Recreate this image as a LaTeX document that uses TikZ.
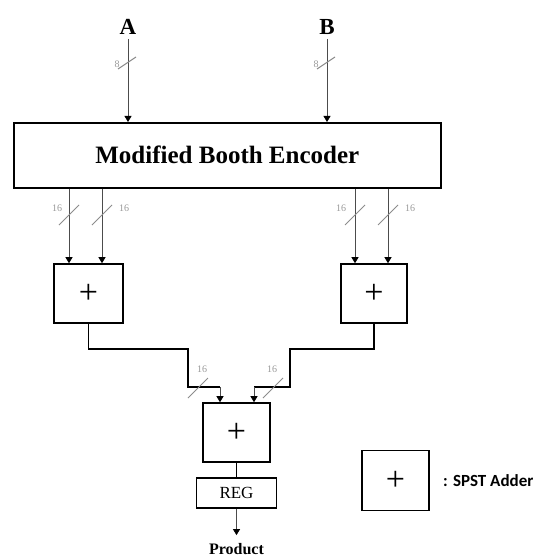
\documentclass[tikz,border=0pt]{standalone}
\usepackage{fontspec}
\setmainfont{Liberation Serif}
\newfontfamily\legendfont{Carlito}
\usetikzlibrary{arrows.meta,calc}
\begin{document}
\begin{tikzpicture}[x=1pt,y=-1pt,
  blk/.style={draw, line width=1.6pt, inner sep=0pt},
  adder/.style={blk, minimum width=67pt, minimum height=59pt, font=\fontsize{34}{34}\selectfont},
  arr/.style={draw=black!70, line width=0.8pt, -{Triangle[width=7pt,length=6pt,color=black]}},
  wire/.style={draw, line width=1.5pt},
  slashst/.style={draw=black!45, line width=1pt},
  bw/.style={text=black!40, font=\fontsize{10}{10}\selectfont, inner sep=0pt}]
\useasboundingbox (0,0) rectangle (538,559);

% inputs
\node[font=\fontsize{23}{23}\selectfont\bfseries, inner sep=0pt] (A) at (128,27) {A};
\node[font=\fontsize{23}{23}\selectfont\bfseries, inner sep=0pt] (B) at (327,27) {B};

% encoder
\node[blk, minimum width=427pt, minimum height=65pt, anchor=north west,
      font=\fontsize{25}{25}\selectfont\bfseries] (enc) at (13,122) {Modified Booth Encoder};

\draw[arr] ([yshift=-4pt]A.south) -- (A |- enc.north);
\draw[arr] ([yshift=-4pt]B.south) -- (B |- enc.north);
\draw[slashst] (127,63) +(-9,6) -- +(9,-6);
\draw[slashst] (326,63) +(-9,6) -- +(9,-6);
\node[bw] (n8a) at (117,64) {8};
\node[bw] (n8b) at (316,64) {8};

% first-level adders
\node[adder, minimum width=69pt] (addL) at (88.5,293.5) {+};
\node[adder, minimum width=66pt] (addR) at (374,293.5) {+};

\draw[arr] ([xshift=-19.5pt]addL.north |- enc.south) -- ([xshift=-19.5pt]addL.north);
\draw[arr] ([xshift=13.5pt]addL.north |- enc.south) -- ([xshift=13.5pt]addL.north);
\draw[arr] ([xshift=-19pt]addR.north |- enc.south) -- ([xshift=-19pt]addR.north);
\draw[arr] ([xshift=14pt]addR.north |- enc.south) -- ([xshift=14pt]addR.north);

\draw[slashst] (69,215) +(-10,10) -- +(10,-10);
\draw[slashst] (102,215) +(-10,10) -- +(10,-10);
\draw[slashst] (355,215) +(-10,10) -- +(10,-10);
\draw[slashst] (388,215) +(-10,10) -- +(10,-10);
\node[bw] (l1) at (57,208) {16};
\node[bw] (l2) at (124,208) {16};
\node[bw] (l3) at (341,208) {16};
\node[bw] (l4) at (410,208) {16};

% final adder
\node[adder] (addB) at (236.5,432.5) {+};

\coordinate (cL) at (220,387);
\coordinate (cR) at (254,387);
\draw[wire] (addL.south) -- (88.5,349) -- (188,349) -- (188,387) -- (cL);
\draw[wire] (addR.south) -- (374,349) -- (290,349) -- (290,387) -- (cR);
\draw[arr] (cL) -- (cL |- addB.north);
\draw[arr] (cR) -- (cR |- addB.north);

\draw[slashst] (198,388) +(-10,10) -- +(10,-10);
\draw[slashst] (273,388) +(-10,10) -- +(10,-10);
\node[bw] (l5) at (202,369) {16};
\node[bw] (l6) at (272,369) {16};

% register and output
\node[blk, minimum width=80pt, minimum height=30pt, font=\fontsize{17}{17}\selectfont] (reg) at (236.5,493) {REG};
\draw[wire] (addB.south) -- (reg.north);
\node[font=\fontsize{16}{16}\selectfont\bfseries, inner sep=0pt] (prod) at (236.5,549) {Product};
\draw[arr] (reg.south) -- ([yshift=8pt]prod.north);

% legend
\node[adder, minimum height=60pt] (leg) at (395.5,480.5) {+};
\node[anchor=west, inner sep=0pt, font=\legendfont\fontsize{17}{17}\selectfont\bfseries] (legt) at (443,481) {: SPST Adder};
\end{tikzpicture}
\end{document}
